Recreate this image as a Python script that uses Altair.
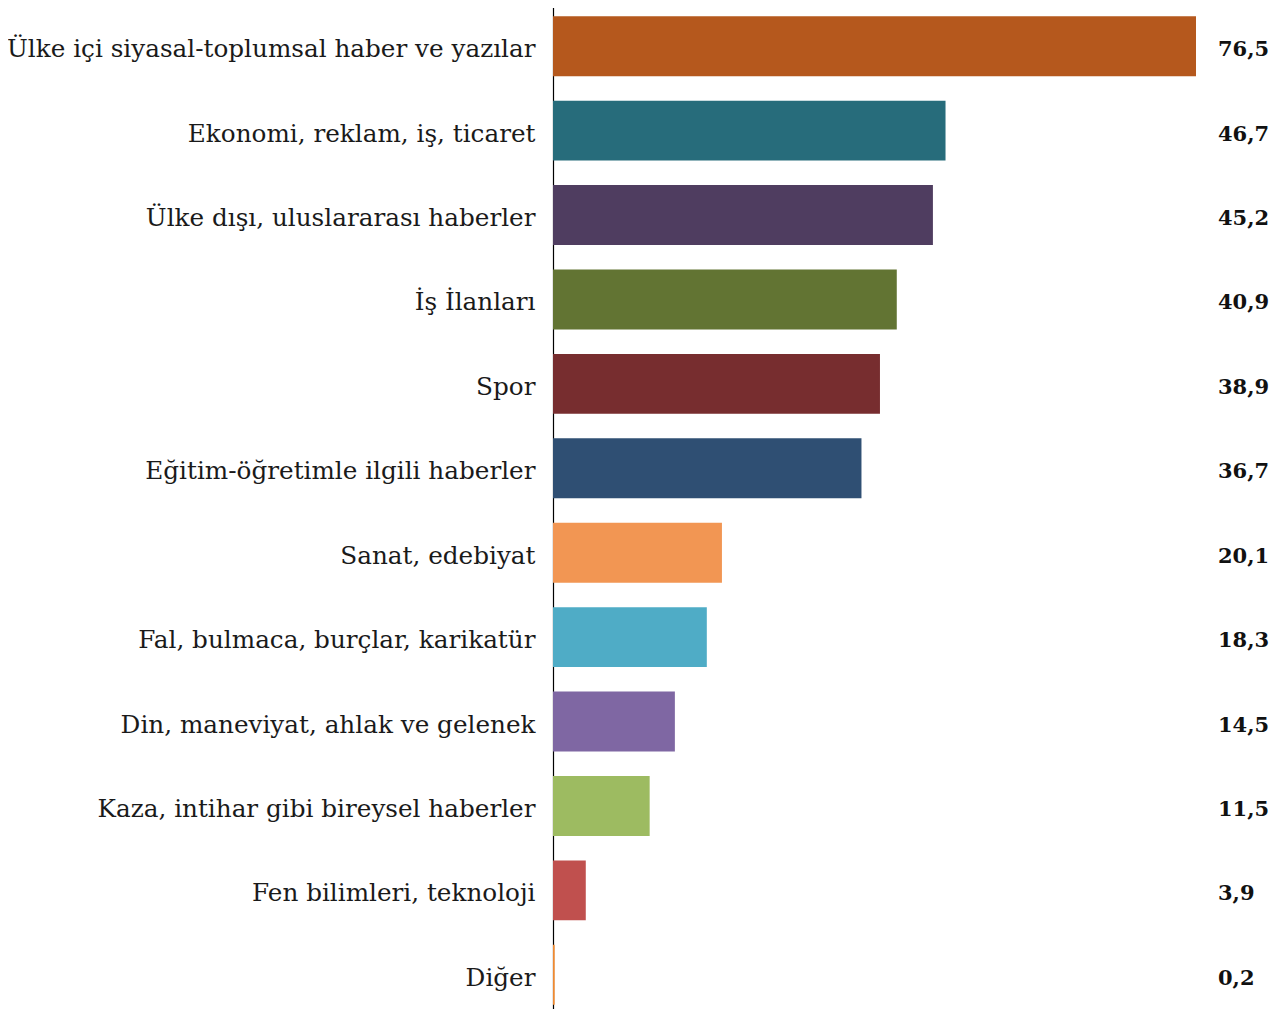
import altair as alt
import pandas as pd

categories = [
    "Ülke içi siyasal-toplumsal haber ve yazılar",
    "Ekonomi, reklam, iş, ticaret",
    "Ülke dışı, uluslararası haberler",
    "İş İlanları",
    "Spor",
    "Eğitim-öğretimle ilgili haberler",
    "Sanat, edebiyat",
    "Fal, bulmaca, burçlar, karikatür",
    "Din, maneviyat, ahlak ve gelenek",
    "Kaza, intihar gibi bireysel haberler",
    "Fen bilimleri, teknoloji",
    "Diğer",
]
values = [76.5, 46.7, 45.2, 40.9, 38.9, 36.7, 20.1, 18.3, 14.5, 11.5, 3.9, 0.2]
labels = ["76,5", "46,7", "45,2", "40,9", "38,9", "36,7", "20,1", "18,3", "14,5", "11,5", "3,9", "0,2"]
colors = ["#B5581D", "#276C7B", "#4F3D60", "#627433", "#772D2F", "#2F4F73",
          "#F29653", "#4FACC6", "#7F67A3", "#9DBB61", "#C0504E", "#F08A30"]

df = pd.DataFrame({"cat": categories, "val": values, "lab": labels, "col": colors})

FONT = "DejaVu Serif"

y_enc = alt.Y("cat:N", sort=categories, title=None,
              scale=alt.Scale(paddingInner=0.29, paddingOuter=0.145),
              axis=alt.Axis(domain=True, domainColor="#000000", domainWidth=1.2,
                            ticks=False, grid=False, labelFont=FONT, labelFontSize=24.7,
                            labelColor="#1a1a1a", labelPadding=18, labelLimit=0,
                            labelOffset=4))

bars = alt.Chart(df).mark_bar().encode(
    x=alt.X("val:Q", scale=alt.Scale(domain=[0, 76.5], nice=False, zero=True), axis=None),
    y=y_enc,
    color=alt.Color("col:N", scale=None, legend=None),
)

text = alt.Chart(df).mark_text(align="left", baseline="middle", font=FONT, dy=4,
                               fontSize=21, fontWeight="bold", color="#111111").encode(
    x=alt.value(665),
    y=alt.Y("cat:N", sort=categories),
    text="lab:N",
)

chart = (bars + text).properties(
    width=643, height=1013,
    autosize=alt.AutoSizeParams(type="none"),
    padding={"left": 545, "top": -4, "right": 76, "bottom": -8},
).configure_view(stroke=None)

chart.save("out.html", embed_options={"renderer": "svg", "actions": False})
